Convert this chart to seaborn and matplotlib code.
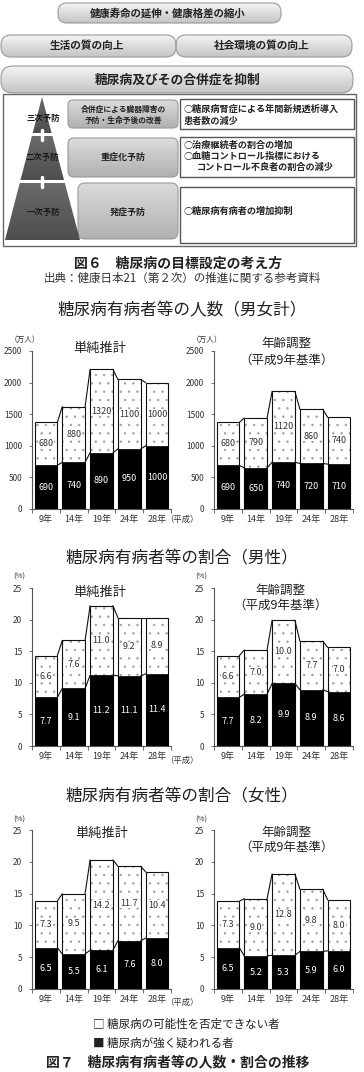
import numpy as np
import pandas as pd
import matplotlib
matplotlib.use("Agg")
import matplotlib.pyplot as plt
import matplotlib.colors as mcolors
from matplotlib.patches import FancyBboxPatch, Polygon
import seaborn as sns

# ---------------- data ----------------
years = ["9年", "14年", "19年", "24年", "28年"]

total_simple_strong = [690, 740, 890, 950, 1000]
total_simple_possible = [680, 880, 1320, 1100, 1000]
total_adj_strong = [690, 650, 740, 720, 710]
total_adj_possible = [680, 790, 1120, 860, 740]

male_simple_strong = [7.7, 9.1, 11.2, 11.1, 11.4]
male_simple_possible = [6.6, 7.6, 11.0, 9.2, 8.9]
male_adj_strong = [7.7, 8.2, 9.9, 8.9, 8.6]
male_adj_possible = [6.6, 7.0, 10.0, 7.7, 7.0]

female_simple_strong = [6.5, 5.5, 6.1, 7.6, 8.0]
female_simple_possible = [7.3, 9.5, 14.2, 11.7, 10.4]
female_adj_strong = [6.5, 5.2, 5.3, 5.9, 6.0]
female_adj_possible = [7.3, 9.0, 12.8, 9.8, 8.0]

sns.set_theme(style="white")
plt.rcParams["font.family"] = ["Noto Sans CJK JP", "DejaVu Sans"]
plt.rcParams["hatch.linewidth"] = 0.5

W, H = 364, 1072
fig = plt.figure(figsize=(W / 100, H / 100), dpi=100)
fig.patch.set_facecolor("white")

# ---------------- overlay for diagram and captions ----------------
ov = fig.add_axes([0, 0, 1, 1], zorder=10)
ov.patch.set_visible(False)
ov.axis("off")


def grad_fill(patch, x0, y0, x1, y1, ctop, cbot):
    ov.add_patch(patch)
    g = np.linspace(0, 1, 64)[:, None, None]
    c0 = np.array(mcolors.to_rgb(ctop))[None, None, :]
    c1 = np.array(mcolors.to_rgb(cbot))[None, None, :]
    img = c0 * (1 - g) + c1 * g
    im = ov.imshow(img, extent=(x0, x1, y1, y0), aspect="auto", origin="upper",
                   interpolation="bilinear", zorder=patch.get_zorder() - 0.1)
    im.set_clip_path(patch)


def gbox(x0, y0, x1, y1, ctop, cbot, edge="#9a9a9a", r=8, lw=0.8):
    p = FancyBboxPatch((x0, y0), x1 - x0, y1 - y0,
                       boxstyle=f"round,pad=0,rounding_size={r}",
                       facecolor="none", edgecolor=edge, lw=lw, zorder=2)
    grad_fill(p, x0, y0, x1, y1, ctop, cbot)


def wbox(x0, y0, x1, y1):
    p = FancyBboxPatch((x0, y0), x1 - x0, y1 - y0, boxstyle="square,pad=0",
                       facecolor="white", edgecolor="#555555", lw=1.0, zorder=2)
    ov.add_patch(p)


def txt(x, y, s, size, ha="center", weight="normal", color="#222222", **kw):
    ov.text(x, y, s, fontsize=size, ha=ha, va="center", weight=weight,
            color=color, zorder=6, **kw)


# top rows
gbox(58, 3, 281, 23, "#f4f4f4", "#c4c4c4", r=9)
txt(168, 13, "健康寿命の延伸・健康格差の縮小", 7.5, weight="bold")
gbox(1, 35, 176, 57, "#f4f4f4", "#c4c4c4", r=10)
gbox(176, 35, 352, 57, "#f4f4f4", "#c4c4c4", r=10)
txt(87, 46, "生活の質の向上", 7.7, weight="bold")
txt(262, 46, "社会環境の質の向上", 7.7, weight="bold")
gbox(1, 66, 353, 93, "#f4f4f4", "#c4c4c4", r=12)
txt(178, 80, "糖尿病及びその合併症を抑制", 9.2, weight="bold")

# outer frame
frame = FancyBboxPatch((3, 94), 353, 152, boxstyle="square,pad=0",
                       facecolor="white", edgecolor="#666666", lw=1.0, zorder=1)
ov.add_patch(frame)

# pyramid
ax_top, ax_bot, xl, xr, xc = 97, 240, 5, 80, 42


def px(y, side):
    f = (y - ax_top) / (ax_bot - ax_top)
    return xc - f * (xc - xl) if side == "l" else xc + f * (xr - xc)


for (ya, yb) in [(ax_top, 133), (136, 180), (183, ax_bot)]:
    pts = [(px(ya, "l"), ya), (px(ya, "r"), ya), (px(yb, "r"), yb), (px(yb, "l"), yb)]
    poly = Polygon(pts, closed=True, facecolor="none", edgecolor="none", zorder=3)
    grad_fill(poly, xl, ya, xr, yb, "#6a6a6a", "#4e4e4e")
for yy in (134.5, 181.5):
    ov.plot([xc, xc], [yy - 5, yy + 5], color="white", lw=2.5, zorder=4)
txt(43, 118, "三次予防", 6, weight="bold", color="#1a1a1a")
txt(42, 157, "二次予防", 6, weight="bold", color="#1a1a1a")
txt(43, 212, "一次予防", 6, weight="bold", color="#1a1a1a")

# middle boxes
gbox(68, 100, 178, 128, "#dcdcdc", "#b0b0b0", r=5)
txt(123, 109, "合併症による臓器障害の", 5.6, weight="bold")
txt(123, 120, "予防・生命予後の改善", 5.6, weight="bold")
gbox(68, 138, 178, 177, "#dcdcdc", "#b0b0b0", r=6)
txt(123, 157, "重症化予防", 6.5, weight="bold")
gbox(78, 183, 178, 239, "#dcdcdc", "#b0b0b0", r=7)
txt(128, 212, "発症予防", 6.5, weight="bold")

# right boxes
wbox(180, 99, 354, 129)
txt(184, 109, "○糖尿病腎症による年間新規透析導入", 6.6, ha="left", weight="bold")
txt(184, 121, "患者数の減少", 6.6, ha="left", weight="bold")
wbox(180, 137, 354, 177)
txt(184, 145, "○治療継続者の割合の増加", 6.6, ha="left", weight="bold")
txt(184, 156, "○血糖コントロール指標における", 6.6, ha="left", weight="bold")
txt(197, 167, "コントロール不良者の割合の減少", 6.6, ha="left", weight="bold")
wbox(180, 187, 354, 243)
txt(184, 211, "○糖尿病有病者の増加抑制", 6.6, ha="left", weight="bold")

# captions
txt(178, 264, "図６　糖尿病の目標設定の考え方", 10, weight="bold")
txt(182, 278, "出典：健康日本21（第２次）の推進に関する参考資料", 8.3, color="#333333")

txt(182, 311, "糖尿病有病者等の人数（男女計）", 12)
txt(182, 559, "糖尿病有病者等の割合（男性）", 12)
txt(182, 797, "糖尿病有病者等の割合（女性）", 12)

# legend & figure caption
txt(93, 1024, "□ 糖尿病の可能性を否定できない者", 8.3, ha="left")
txt(93, 1043, "■ 糖尿病が強く疑われる者", 8.3, ha="left")
txt(178, 1062, "図７　糖尿病有病者等の人数・割合の推移", 10, weight="bold")

# ---------------- charts ----------------
BW = 0.82


def draw(ax, strong, possible, ymax, step, fmt):
    total = [a + b for a, b in zip(strong, possible)]
    df = pd.DataFrame({"year": years, "strong": strong, "total": total})
    n0 = len(ax.patches)
    sns.barplot(data=df, x="year", y="total", color="white", width=BW,
                errorbar=None, saturation=1, ax=ax, zorder=1)
    for p in ax.patches[n0:]:
        p.set_facecolor("white")
        p.set_hatch("..")
        p.set_edgecolor("#a0a0a0")
        p.set_linewidth(0)
    n1 = len(ax.patches)
    sns.barplot(data=df, x="year", y="total", fill=False, color="black", width=BW,
                errorbar=None, linewidth=0.8, ax=ax, zorder=2)
    for p in ax.patches[n1:]:
        p.set_facecolor("none")
        p.set_edgecolor("#111111")
        p.set_linewidth(0.8)
    n2 = len(ax.patches)
    sns.barplot(data=df, x="year", y="strong", color="black", width=BW,
                errorbar=None, saturation=1, ax=ax, zorder=3)
    for p in ax.patches[n2:]:
        p.set_facecolor("black")
        p.set_edgecolor("black")
        p.set_linewidth(0.5)
    for i in range(len(years) - 1):
        for vals in (total, strong):
            ax.plot([i + BW / 2, i + 1 - BW / 2], [vals[i], vals[i + 1]],
                    color="#111111", lw=0.8, zorder=4)
    for i, (s, pv) in enumerate(zip(strong, possible)):
        ax.text(i, s / 2, fmt.format(s), color="white", ha="center", va="center",
                fontsize=6.5, zorder=5)
        ax.text(i, s + pv / 2, fmt.format(pv), color="#333333", ha="center",
                va="center", fontsize=6.5, zorder=5,
                bbox=dict(facecolor="white", edgecolor="none", pad=0.2))
    ax.set_xlim(-0.5, len(years) - 0.5)
    ax.set_ylim(0, ymax)
    ax.set_yticks(np.arange(0, ymax + 0.001, step))
    ax.set_xlabel("")
    ax.set_ylabel("")
    ax.patch.set_visible(False)
    for s in ("top", "right"):
        ax.spines[s].set_visible(False)
    for s in ("left", "bottom"):
        ax.spines[s].set_color("#555555")
        ax.spines[s].set_linewidth(0.8)
    ax.tick_params(axis="y", length=2.5, width=0.6, color="#555555",
                   labelsize=6, pad=4.5, labelcolor="#333333", left=True)
    ax.set_xticks(np.arange(-0.5, len(years), 1), minor=True)
    ax.tick_params(axis="x", which="major", length=0, labelsize=6.5, pad=4,
                   labelcolor="#333333")
    ax.tick_params(axis="x", which="minor", length=3, width=0.6,
                   color="#555555", bottom=True)


def add_ax(xl, ytop, ybot):
    return fig.add_axes([xl / W, 1 - ybot / H, 139 / W, (ybot - ytop) / H])


rows = [
    (351, 509, total_simple_strong, total_simple_possible, total_adj_strong,
     total_adj_possible, 2500, 500, "{:d}"),
    (588, 746, male_simple_strong, male_simple_possible, male_adj_strong,
     male_adj_possible, 25, 5, "{:.1f}"),
    (830, 989, female_simple_strong, female_simple_possible, female_adj_strong,
     female_adj_possible, 25, 5, "{:.1f}"),
]
for (yt, yb, s1, p1, s2, p2, ymax, step, fmt) in rows:
    draw(add_ax(32, yt, yb), s1, p1, ymax, step, fmt)
    draw(add_ax(214, yt, yb), s2, p2, ymax, step, fmt)

# chart annotations
txt(25, 340, "（万人）", 5.5, color="#333333")
txt(207, 340, "（万人）", 5.5, color="#333333")
txt(100, 348, "単純推計", 9.5)
txt(286, 343, "年齢調整", 9)
txt(286, 360, "（平成9年基準）", 9)
txt(182, 519, "（平成）", 6, color="#333333")

txt(19, 577, "(%)", 5.5, color="#333333")
txt(201, 577, "(%)", 5.5, color="#333333")
txt(100, 592, "単純推計", 9.5)
txt(280, 590, "年齢調整", 9)
txt(280, 605, "（平成9年基準）", 9)
txt(182, 760, "（平成）", 6, color="#333333")

txt(19, 820, "(%)", 5.5, color="#333333")
txt(201, 820, "(%)", 5.5, color="#333333")
txt(102, 833, "単純推計", 9.5)
txt(286, 832, "年齢調整", 9)
txt(286, 847, "（平成9年基準）", 9)
txt(182, 1002, "（平成）", 6, color="#333333")

ov.set_xlim(0, W)
ov.set_ylim(H, 0)

fig.savefig("out.png", dpi=100)
